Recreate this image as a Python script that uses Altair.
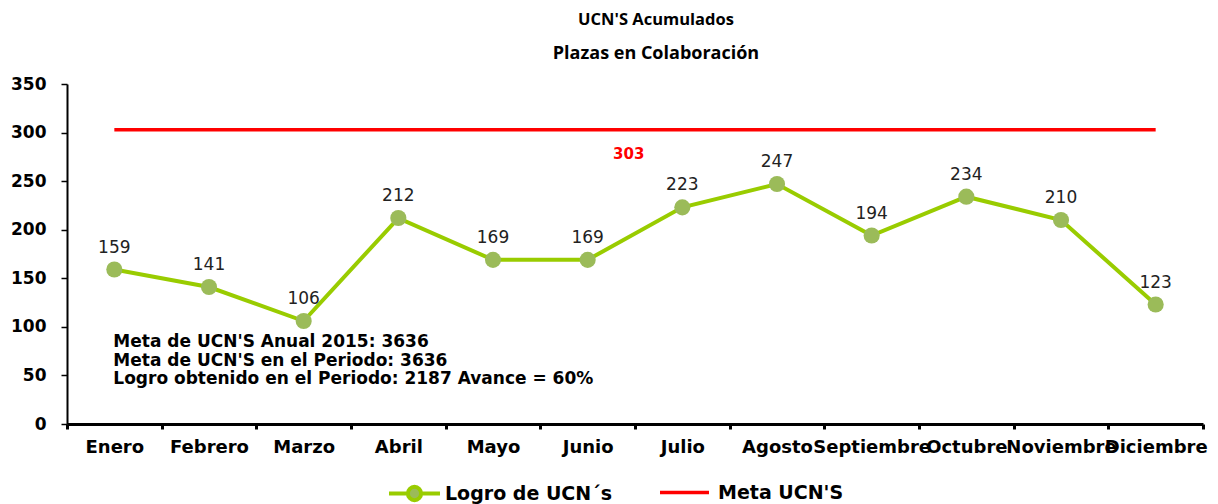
import altair as alt
import pandas as pd

months = ["Enero", "Febrero", "Marzo", "Abril", "Mayo", "Junio", "Julio",
          "Agosto", "Septiembre", "Octubre", "Noviembre", "Diciembre"]
logro = [159, 141, 106, 212, 169, 169, 223, 247, 194, 234, 210, 123]
meta = [303] * 12
series_logro = "Logro de UCN´s"
series_meta = "Meta UCN'S"
notes = ["Meta de UCN'S Anual  2015: 3636",
         "Meta de UCN'S en el Periodo: 3636",
         "Logro obtenido en el Periodo: 2187 Avance  = 60%"]
note_y = [84, 65, 46]
meta_label = ["303"]
meta_label_y = [278]

df = pd.DataFrame({"month": months, "logro": logro, "meta": meta,
                   "s_logro": series_logro, "s_meta": series_meta})
notes_df = pd.DataFrame({"month": ["Enero"] * 3, "txt": notes, "y": note_y})
ml_df = pd.DataFrame({"month": ["Junio"], "txt": meta_label, "y": meta_label_y})

xenc = alt.X("month:N", sort=months,
             scale=alt.Scale(type="band", paddingInner=0, paddingOuter=0, domain=months),
             axis=alt.Axis(title=None, labelAngle=0, tickBand="extent", labelOverlap=False,
                           labelFont="DejaVu Sans", labelFontWeight="bold", labelFontSize=18,
                           labelColor="black", labelPadding=9, domainColor="black",
                           domainWidth=3, tickColor="black", tickWidth=3, tickSize=5))
yscale = alt.Scale(domain=[0, 350], nice=False)
yaxis = alt.Axis(title=None, values=[0, 50, 100, 150, 200, 250, 300, 350], grid=False,
                 labelFont="DejaVu Sans", labelFontWeight="bold", labelFontSize=17,
                 labelColor="black", labelPadding=15, domainColor="black", domainWidth=2,
                 tickColor="black", tickWidth=1.5, tickSize=6)

base = alt.Chart(df)

meta_line = base.mark_line(strokeWidth=3.5).encode(
    x=xenc,
    y=alt.Y("meta:Q", scale=yscale, axis=yaxis),
    color=alt.Color("s_meta:N",
                    scale=alt.Scale(domain=[series_meta], range=["#FF0000"]),
                    legend=alt.Legend(title=None, orient="none", legendX=591, legendY=382,
                                      symbolType="stroke", symbolSize=2400,
                                      symbolStrokeWidth=3.5, labelFont="DejaVu Sans",
                                      labelFontWeight="bold", labelFontSize=19,
                                      labelLimit=400,
                                      labelColor="black", labelOffset=7)),
)

logro_line = base.mark_line(strokeWidth=4).encode(
    x=xenc,
    y=alt.Y("logro:Q", scale=yscale, axis=yaxis),
    color=alt.Color("s_logro:N",
                    scale=alt.Scale(domain=[series_logro], range=["#99CC00"]),
                    legend=alt.Legend(title=None, orient="none", legendX=320, legendY=382,
                                      symbolType="M-1,0H-0.26M0.26,0H1M-0.26,0A0.26,0.26 0 1,1 0.26,0A0.26,0.26 0 1,1 -0.26,0Z",
                                      symbolSize=2600, symbolStrokeWidth=4,
                                      symbolFillColor="#9BBB59",
                                      labelFont="DejaVu Sans", labelFontWeight="bold",
                                      labelFontSize=19, labelLimit=400,
                                      labelColor="black", labelOffset=3)),
)

logro_pts = base.mark_point(filled=True, fill="#9BBB59", size=260, opacity=1).encode(
    x=xenc, y=alt.Y("logro:Q", scale=yscale, axis=yaxis))

logro_txt = base.mark_text(dy=-22, font="DejaVu Sans", fontSize=17, color="#222").encode(
    x=xenc, y=alt.Y("logro:Q", scale=yscale, axis=yaxis), text="logro:Q")

notes_txt = alt.Chart(notes_df).mark_text(align="left", dx=-1, font="DejaVu Sans",
                                          fontWeight="bold", fontSize=17, color="black").encode(
    x=xenc, y=alt.Y("y:Q", scale=yscale, axis=yaxis), text="txt:N")

meta_txt = alt.Chart(ml_df).mark_text(dx=41, font="DejaVu Sans", fontWeight="bold",
                                      fontSize=15, color="#FF0000").encode(
    x=xenc, y=alt.Y("y:Q", scale=yscale, axis=yaxis), text="txt:N")

chart = alt.layer(meta_line, logro_line, logro_pts, logro_txt, notes_txt, meta_txt).resolve_scale(
    color="independent"
).properties(
    width=1136, height=340,
    autosize=alt.AutoSizeParams(type="none"),
    padding={"left": 59, "top": 76, "right": 7, "bottom": 80},
    title=alt.Title("UCN'S Acumulados", subtitle="Plazas en Colaboración",
                    font="Open Sans", fontSize=16.5, fontWeight="bold", color="black",
                    subtitleFont="Open Sans", subtitleFontSize=18,
                    subtitleFontWeight="bold", subtitleColor="black", subtitlePadding=17,
                    anchor="middle", dx=21, offset=12),
).configure_view(stroke=None)

chart.save("out.html", embed_options={"renderer": "svg", "actions": False})
